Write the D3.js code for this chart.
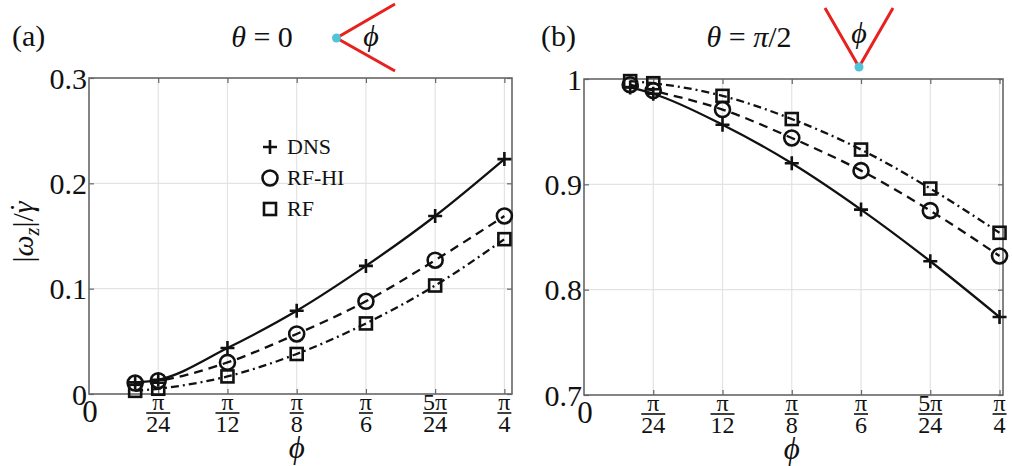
<!DOCTYPE html>
<html>
<head>
<meta charset="utf-8">
<script src="https://cdn.jsdelivr.net/npm/d3@7"></script>
<style>
  body { margin: 0; background: #fff; }
  svg text { font-family: 'Liberation Serif', 'DejaVu Serif', serif; fill: #111; }
</style>
</head>
<body>
<script>
// data
var phi = [Math.PI / 36, Math.PI / 24, Math.PI / 12, Math.PI / 8, Math.PI / 6, 5 * Math.PI / 24, Math.PI / 4];

var dnsA  = [0.011, 0.0135, 0.0436, 0.079, 0.1216, 0.169, 0.223];
var rfhiA = [0.0104, 0.0126, 0.030, 0.057, 0.088, 0.127, 0.169];
var rfA   = [0.003, 0.005, 0.0167, 0.038, 0.067, 0.103, 0.147];

var dnsB  = [0.992, 0.986, 0.9566, 0.920, 0.876, 0.827, 0.774];
var rfhiB = [0.9946, 0.989, 0.971, 0.944, 0.913, 0.875, 0.832];
var rfB   = [0.998, 0.996, 0.984, 0.962, 0.933, 0.896, 0.854];

var xTickVals = [Math.PI / 24, Math.PI / 12, Math.PI / 8, Math.PI / 6, 5 * Math.PI / 24, Math.PI / 4];
var xTickNum = ["π", "π", "π", "π", "5π", "π"];
var xTickDen = ["24", "12", "8", "6", "24", "4"];

var yTicksA = [0, 0.1, 0.2, 0.3];
var yLabelsA = ["0", "0.1", "0.2", "0.3"];
var yTicksB = [0.7, 0.8, 0.9, 1];
var yLabelsB = ["0.7", "0.8", "0.9", "1"];

var legendNames = ["DNS", "RF-HI", "RF"];

var svgWidth = 1012;
var svgHeight = 466;
var serif = "Liberation Serif, DejaVu Serif, serif";

var svg = d3.select("body").append("svg")
  .attr("width", svgWidth)
  .attr("height", svgHeight)
  .attr("font-family", serif);

function marker(g, kind, x, y) {
  if (kind == "plus") {
    g.append("path")
      .attr("d", `M${x - 7},${y}H${x + 7}M${x},${y - 7}V${y + 7}`)
      .attr("stroke", "#111").attr("stroke-width", 2.6).attr("fill", "none");
  } else if (kind == "circle") {
    g.append("circle").attr("cx", x).attr("cy", y).attr("r", 7.5)
      .attr("stroke", "#111").attr("stroke-width", 2.6).attr("fill", "none");
  } else {
    g.append("rect").attr("x", x - 6).attr("y", y - 6).attr("width", 12).attr("height", 12)
      .attr("stroke", "#111").attr("stroke-width", 2.6).attr("fill", "none");
  }
}

function txt(g) {
  return g.append("text").attr("font-family", serif);
}

function panel(opt) {
  var x = d3.scaleLinear().domain([0, opt.xMax]).range([opt.left, opt.right]);
  var y = d3.scaleLinear().domain(opt.yDomain).range([opt.bottom, opt.top]);
  var g = svg.append("g");

  // grid
  g.append("g").selectAll("line").data(xTickVals).enter().append("line")
    .attr("x1", d => x(d)).attr("x2", d => x(d))
    .attr("y1", opt.top).attr("y2", opt.bottom)
    .attr("stroke", "#e3e3e3").attr("stroke-width", 1.2);
  g.append("g").selectAll("line").data(opt.yTicks.slice(1, -1)).enter().append("line")
    .attr("x1", opt.left).attr("x2", opt.right)
    .attr("y1", d => y(d)).attr("y2", d => y(d))
    .attr("stroke", "#e3e3e3").attr("stroke-width", 1.2);

  // axes with inward ticks
  var h = opt.bottom - opt.top, w = opt.right - opt.left;
  g.append("g").attr("transform", `translate(0,${opt.bottom})`)
    .call(d3.axisTop(x).tickValues(xTickVals).tickSize(5).tickFormat(""))
    .call(a => a.select(".domain").remove());
  g.append("g").attr("transform", `translate(0,${opt.top})`)
    .call(d3.axisBottom(x).tickValues(xTickVals).tickSize(5).tickFormat(""))
    .call(a => a.select(".domain").remove());
  g.append("g").attr("transform", `translate(${opt.left},0)`)
    .call(d3.axisRight(y).tickValues(opt.yTicks).tickSize(5).tickFormat(""))
    .call(a => a.select(".domain").remove());
  g.append("g").attr("transform", `translate(${opt.right},0)`)
    .call(d3.axisLeft(y).tickValues(opt.yTicks).tickSize(5).tickFormat(""))
    .call(a => a.select(".domain").remove());
  g.selectAll(".tick line").attr("stroke", "#666").attr("stroke-width", 1.2);
  g.append("rect").attr("x", opt.left).attr("y", opt.top).attr("width", w).attr("height", h)
    .attr("fill", "none").attr("stroke", "#666").attr("stroke-width", 1.6);

  // y tick labels
  g.append("g").selectAll("text").data(opt.yTicks).enter().append("text")
    .attr("font-family", serif)
    .attr("x", opt.left - 2).attr("y", d => y(d)).attr("dy", "0.36em")
    .attr("text-anchor", "end").attr("font-size", 30)
    .text((d, i) => opt.yLabels[i]);

  // x tick labels as fractions
  var xl = g.append("g").selectAll("g").data(xTickVals).enter().append("g")
    .attr("transform", d => `translate(${x(d)},${opt.bottom})`);
  xl.append("text").attr("font-family", serif).attr("y", 16).attr("text-anchor", "middle").attr("font-size", 24)
    .text((d, i) => xTickNum[i]);
  xl.append("line").attr("x1", (d, i) => xTickDen[i].length > 1 ? -12 : -7)
    .attr("x2", (d, i) => xTickDen[i].length > 1 ? 12 : 7)
    .attr("y1", 19).attr("y2", 19).attr("stroke", "#111").attr("stroke-width", 1.6);
  xl.append("text").attr("font-family", serif).attr("y", 38).attr("text-anchor", "middle").attr("font-size", 24)
    .text((d, i) => xTickDen[i]);
  txt(g).attr("x", opt.left + 1).attr("y", opt.bottom + 28)
    .attr("text-anchor", "middle").attr("font-size", 31).text("0");

  // x axis title
  txt(g).attr("x", x(Math.PI / 8)).attr("y", opt.bottom + 64)
    .attr("text-anchor", "middle").attr("font-size", 31).attr("font-style", "italic").text("ϕ");

  // series
  var sets = [
    { v: opt.dns, dash: null, kind: "plus" },
    { v: opt.rfhi, dash: "9,6", kind: "circle" },
    { v: opt.rf, dash: "8,4,2,4", kind: "square" }
  ];
  var line = d3.line().x((d, i) => x(phi[i])).y(d => y(d)).curve(d3.curveMonotoneX);
  sets.forEach(function(s) {
    g.append("path").datum(s.v).attr("d", line)
      .attr("fill", "none").attr("stroke", "#111").attr("stroke-width", 2.3)
      .attr("stroke-dasharray", s.dash);
  });
  sets.forEach(function(s) {
    s.v.forEach(function(d, i) { marker(g, s.kind, x(phi[i]), y(d)); });
  });
  return g;
}

panel({
  left: 89, right: 512, top: 78, bottom: 394, xMax: 6.11 * Math.PI / 24,
  yDomain: [0, 0.3], yTicks: yTicksA, yLabels: yLabelsA,
  dns: dnsA, rfhi: rfhiA, rf: rfA
});
panel({
  left: 584, right: 1003, top: 79, bottom: 395, xMax: 6.05 * Math.PI / 24,
  yDomain: [0.7, 1], yTicks: yTicksB, yLabels: yLabelsB,
  dns: dnsB, rfhi: rfhiB, rf: rfB
});

// legend
var kinds = ["plus", "circle", "square"];
var leg = svg.append("g");
legendNames.forEach(function(name, i) {
  var ly = 147 + i * 31;
  marker(leg, kinds[i], 270, ly);
  txt(leg).attr("x", 287).attr("y", ly + 7).attr("font-size", 22).text(name);
});

// y axis title
var yt = txt(svg).attr("transform", "translate(33,232) rotate(-90)")
  .attr("text-anchor", "middle").attr("font-size", 30);
yt.append("tspan").text("|");
yt.append("tspan").attr("font-style", "italic").text("ω");
yt.append("tspan").attr("font-style", "italic").attr("font-size", 20).attr("dy", 6).text("z");
yt.append("tspan").attr("dy", -6).text("|/");
yt.append("tspan").attr("font-style", "italic").text("γ");
yt.append("tspan").attr("dx", -11).attr("dy", -2).text("˙");
</script>
<script>
// panel titles and schematics
var svg2 = d3.select("svg");
txt(svg2).attr("x", 12).attr("y", 46).attr("font-size", 30).text("(a)");
var ta = txt(svg2).attr("x", 262).attr("y", 47).attr("text-anchor", "middle").attr("font-size", 30);
ta.append("tspan").attr("font-style", "italic").text("θ");
ta.append("tspan").text(" = 0");

txt(svg2).attr("x", 541).attr("y", 46).attr("font-size", 30).text("(b)");
var tb = txt(svg2).attr("x", 749).attr("y", 47).attr("text-anchor", "middle").attr("font-size", 30);
tb.append("tspan").attr("font-style", "italic").text("θ");
tb.append("tspan").text(" = ");
tb.append("tspan").attr("font-style", "italic").text("π");
tb.append("tspan").text("/2");

var sch = svg2.append("g");
sch.append("path").attr("d", "M395,4L336.5,38L395,71")
  .attr("fill", "none").attr("stroke", "#e8201e").attr("stroke-width", 3);
sch.append("circle").attr("cx", 336.5).attr("cy", 38).attr("r", 4.5).attr("fill", "#52c3d8");
txt(sch).attr("x", 371).attr("y", 46).attr("text-anchor", "middle")
  .attr("font-size", 30).attr("font-style", "italic").text("ϕ");

sch.append("path").attr("d", "M825,8L859,67L893,8")
  .attr("fill", "none").attr("stroke", "#e8201e").attr("stroke-width", 3);
sch.append("circle").attr("cx", 859).attr("cy", 67).attr("r", 4.5).attr("fill", "#52c3d8");
txt(sch).attr("x", 859).attr("y", 43).attr("text-anchor", "middle")
  .attr("font-size", 30).attr("font-style", "italic").text("ϕ");
</script>
</body>
</html>
